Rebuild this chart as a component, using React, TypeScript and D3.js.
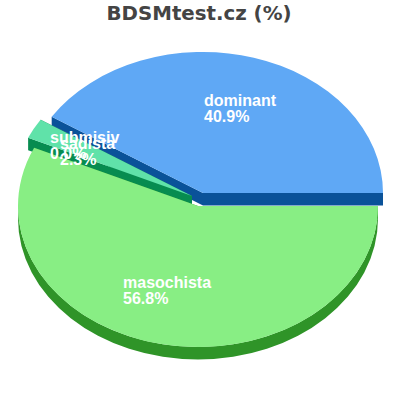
import React from "react";
import * as d3 from "d3";

const categories = ["masochista", "sadista", "submisiv", "dominant"];
const values = [56.8, 2.3, 0.02, 40.9];
const topColors = ["#88ee84", "#60e2a9", "#e07a90", "#5fa8f5"];
const sideColors = ["#2f9428", "#078c50", "none", "#0a5299"];
const centers: [number, number][] = [[198, 206], [192, 196], [192, 195.5], [203, 193]];
const labelPos: [number, number][] = [[123, 288], [60, 149], [50, 143], [204, 106]];

const RX = 180;
const RY = 141;
const DEPTH = 12.5;
const title = "BDSMtest.cz (%)";

const pie = d3.pie<number>().sort(null).startAngle(Math.PI / 2).endAngle(Math.PI / 2 + 2 * Math.PI);
const arcs = pie(values);
const arcGen = d3.arc<d3.PieArcDatum<number>>().innerRadius(0).outerRadius(RX);
const px = (a: number) => RX * Math.sin(a);
const py = (a: number) => (-RY * Math.cos(a));

function wall(a: number, cx: number, cy: number) {
  const x = cx + px(a), y = cy + py(a);
  return `M${cx},${cy}L${x},${y}L${x},${y + DEPTH}L${cx},${cy + DEPTH}Z`;
}
function rim(a0: number, a1: number, cx: number, cy: number) {
  const s = Math.max(a0, Math.PI / 2), e = Math.min(a1, Math.PI * 1.5);
  if (s >= e) return "";
  const x0 = cx + px(s), y0 = cy + py(s), x1 = cx + px(e), y1 = cy + py(e);
  return `M${x0},${y0}A${RX},${RY} 0 ${e - s > Math.PI ? 1 : 0} 1 ${x1},${y1}L${x1},${y1 + DEPTH}A${RX},${RY} 0 ${e - s > Math.PI ? 1 : 0} 0 ${x0},${y0 + DEPTH}Z`;
}

const drawOrder = [3, 2, 1, 0];

export default function App() {
  return (
    <svg width={400} height={400} style={{ position: "absolute", left: 0, top: 0, background: "#fff" }}>
      <text x={199} y={20} textAnchor="middle" fontFamily="DejaVu Sans" fontWeight="bold" fontSize={19.8} fill="#444">{title}</text>
      {drawOrder.map((i) => {
        const d = arcs[i];
        const [cx, cy] = centers[i];
        return (
          <g key={categories[i]}>
            <path d={rim(d.startAngle, d.endAngle, cx, cy)} fill={sideColors[i]} />
            <path d={wall(d.startAngle, cx, cy)} fill={sideColors[i]} />
            <path d={wall(d.endAngle, cx, cy)} fill={sideColors[i]} />
            <path d={arcGen(d) || ""} transform={`translate(${cx},${cy}) scale(1,${RY / RX})`} fill={topColors[i]} />
          </g>
        );
      })}
      {categories.map((c, i) => (
        <text key={c} fontFamily="Liberation Sans" fontWeight="bold" fontSize={16} fill="#fff">
          <tspan x={labelPos[i][0]} y={labelPos[i][1]}>{c}</tspan>
          <tspan x={labelPos[i][0]} y={labelPos[i][1] + 16}>{values[i].toFixed(1)}%</tspan>
        </text>
      ))}
    </svg>
  );
}
